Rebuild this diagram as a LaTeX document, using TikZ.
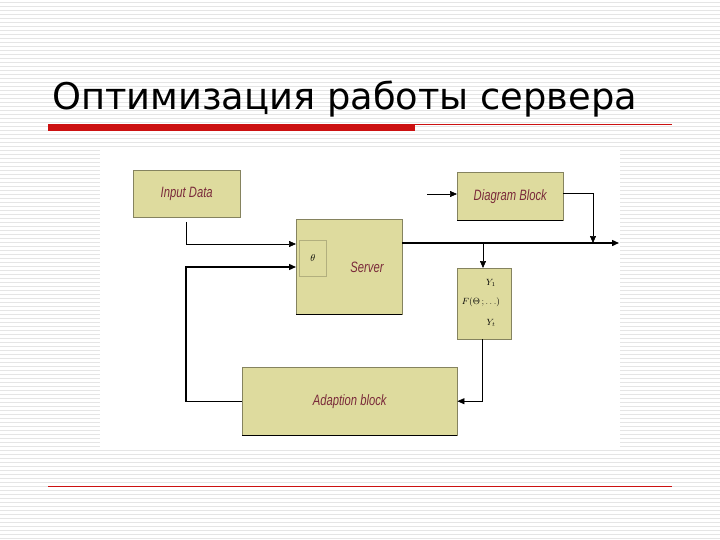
\documentclass[tikz,border=0pt]{standalone}
\usepackage{fontspec}
\setmainfont{DejaVu Sans}
\newfontfamily\lab{Liberation Sans}
\usetikzlibrary{arrows.meta}
\definecolor{boxc}{HTML}{DEDB9E}
\definecolor{txt}{HTML}{7A2A3A}
\definecolor{redc}{HTML}{CC1111}
\tikzset{
 blk/.style={fill=boxc,draw=boxc!60!black,line width=0.4pt,inner sep=0},
 bt/.style={text=txt,font=\lab\itshape\fontsize{15}{16}\selectfont,xscale=0.75},
 ln/.style={line width=0.7pt},
 thk/.style={line width=1.4pt},
 arr/.style={-{Triangle[length=7pt,width=6pt]}}
}
\begin{document}
\begin{tikzpicture}[x=1pt,y=-1pt]
\useasboundingbox (0,0) rectangle (720,540);
\fill[white] (0,0) rectangle (720,540);
\foreach \y in {2,6,...,538} \draw[gray!20,line width=0.6pt] (0,\y) -- (720,\y);
\node[anchor=base west,font=\fontsize{36.8}{40}\selectfont,inner sep=0] (title) at (52,110) {Оптимизация работы сервера};
\fill[redc] (48,124) rectangle (415,131);
\draw[redc,line width=0.5pt] (415,124) -- (672,124);
\draw[redc,line width=0.5pt] (48,486) -- (672,486);
\fill[white] (100,150) rectangle (620,450);
% boxes
\node[blk,minimum width=107,minimum height=47,anchor=north west] (inp) at (133,170) {};
\node[bt] at (inp.center) {Input Data};
\node[blk,minimum width=106,minimum height=95,anchor=north west] (srv) at (296,219) {};
\node[bt] at (367,267) {Server};
\node[draw=boxc!80!black,fill=boxc,line width=0.8pt,minimum width=27,minimum height=36,anchor=north west,inner sep=0] (th) at (299,240) {};
\node[font=\normalsize] at (th.center) {$\theta$};
\node[blk,minimum width=106,minimum height=48,anchor=north west] (dia) at (457,172) {};
\node[bt] at (dia.center) {Diagram Block};
\node[blk,minimum width=54,minimum height=71,anchor=north west] (fml) at (457,268) {};
\node[font=\fontsize{9}{10}\selectfont] at (491,283) {$Y_1$};
\node[font=\fontsize{9}{10}\selectfont] at (481,302) {$F(\Theta\,;\ldots)$};
\node[font=\fontsize{9}{10}\selectfont] at (491,323) {$Y_t$};
\node[blk,minimum width=215,minimum height=68,anchor=north west] (ada) at (242,367) {};
\node[bt] at (ada.center) {Adaption block};
% shadows
\draw[black,line width=1.2pt] (srv.south west) -- (srv.south east);
\draw[black,line width=1.2pt] (dia.south west) -- (dia.south east);
\draw[black,line width=1pt] (ada.south west) -- (ada.south east);
% connectors
\coordinate (a1) at (186,222);
\draw[ln,arr] (a1) |- (296,244);
\draw[thk,arr] (ada.west) -| (186,267) -- (296,267);
\coordinate (out) at (619,243);
\draw[thk,arr] (srv.east |- out) -- (out);
\draw[ln,arr] (483,243) -- (483,268);
\coordinate (din) at (427,194);
\draw[ln,arr] (din) -- (din -| dia.west);
\draw[ln,arr] (563,193) -| (593,243);
\draw[ln,arr] (482,339) |- (ada.east);
\end{tikzpicture}
\end{document}
